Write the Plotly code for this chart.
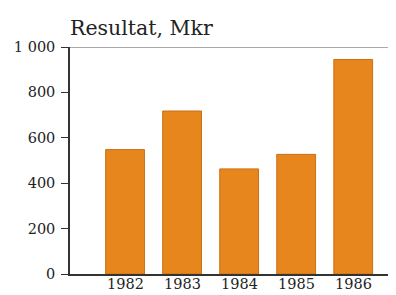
import plotly.graph_objects as go

years = ["1982", "1983", "1984", "1985", "1986"]
resultat = [548, 718, 463, 527, 945]
y_tickvals = [0, 200, 400, 600, 800, 1000]
y_ticktext = ["0", "200", "400", "600", "800", "1 000"]

font = "DejaVu Serif, Liberation Serif, serif"
xs = list(range(len(years)))

fig = go.Figure()
fig.add_trace(go.Bar(
    x=xs, y=resultat,
    width=0.68,
    marker=dict(color="#E8861E", line=dict(color="#C96F16", width=1)),
))
annotations = [dict(text="Resultat, Mkr", xref="paper", yref="paper",
                     x=-0.005, y=1.0, yshift=5, xanchor="left", yanchor="bottom",
                     showarrow=False, font=dict(size=20.5, family=font, color="#222"))]
for xv, lab in zip(xs, years):
    annotations.append(dict(text=lab, xref="x", yref="paper", x=xv, y=0,
                            yanchor="top", xanchor="center", yshift=0,
                            showarrow=False,
                            font=dict(size=14.5, family=font, color="#222")))
fig.update_layout(
    width=388, height=287,
    margin=dict(l=62, r=0, t=39, b=21),
    paper_bgcolor="white", plot_bgcolor="white",
    showlegend=False,
    font=dict(family=font, size=13, color="#222"),
    xaxis=dict(
        range=[-0.965, 4.75], automargin=False,
        tickvals=xs, showticklabels=False,
        showgrid=False, zeroline=False,
        showline=True, linecolor="#333", linewidth=1.5,
        ticks="",
    ),
    yaxis=dict(
        range=[0, 1000], automargin=False,
        tickvals=y_tickvals, ticktext=y_ticktext,
        showgrid=False, zeroline=False,
        showline=True, linecolor="#333", linewidth=1.5,
        ticks="outside", ticklen=7, tickcolor="#333", tickwidth=1.2,
        ticklabelstandoff=3,
        tickfont=dict(size=14.5, family=font, color="#222"),
    ),
    shapes=[dict(type="line", xref="paper", yref="y", x0=0, x1=1, y0=1000, y1=1000,
                 line=dict(color="#555", width=1.2))],
    annotations=annotations,
)
fig.write_html("out.html")
